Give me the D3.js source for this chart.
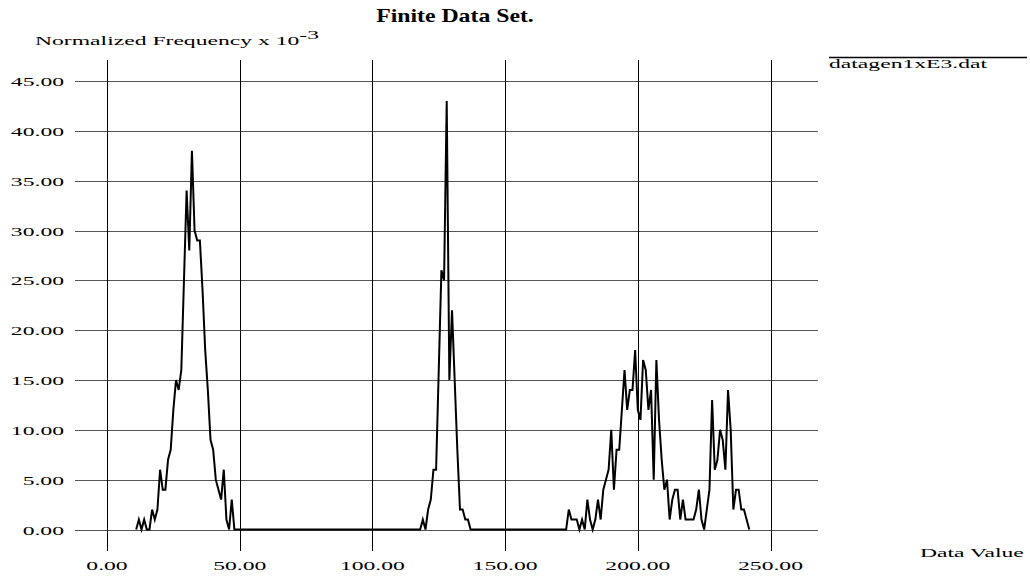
<!DOCTYPE html>
<html>
<head>
<meta charset="utf-8">
<script src="https://cdn.jsdelivr.net/npm/d3@7"></script>
<style>
body { margin: 0; background: #fff; }
svg text { font-family: "Liberation Serif", "Times New Roman", serif; fill: #000; }
</style>
</head>
<body>
<svg width="1030" height="576"></svg>
<script>
// data (x = data value, y = normalized frequency x 10^-3)
var dataValue = [
    11, 12, 13, 14, 15, 16, 17, 18, 19, 20, 21, 22, 23, 24, 25, 26, 27, 28, 29, 30,
    31, 32, 33, 34, 35, 36, 37, 38, 39, 40, 41, 42, 43, 44, 45, 46, 47, 48,
    118, 119, 120, 121, 122, 123, 124, 125, 126, 127, 128, 129, 130, 131, 132, 133,
    134, 135, 136, 137,
    173, 174, 175, 176, 177, 178, 179, 180, 181, 182, 183, 184, 185, 186, 187, 188,
    189, 190, 191, 192, 193, 194, 195, 196, 197, 198, 199, 200, 201, 202, 203, 204,
    205, 206, 207, 208, 209, 210, 211, 212, 213, 214, 215, 216, 217, 218, 219, 220,
    221, 222, 223, 224, 225, 226, 227, 228, 229, 230, 231, 232, 233, 234, 235, 236,
    237, 238, 239, 240, 241, 242
];
var frequency = [
    0, 1, 0, 1, 0, 0, 2, 1, 2, 6, 4, 4, 7, 8, 12, 15, 14, 16, 25, 34,
    28, 38, 30, 29, 29, 24, 18, 14, 9, 8, 5, 4, 3, 6, 1, 0, 3, 0,
    0, 1, 0, 2, 3, 6, 6, 16, 26, 25, 43, 15, 22, 15, 8, 2,
    2, 1, 1, 0,
    0, 2, 1, 1, 1, 0, 1, 0, 3, 1, 0, 1, 3, 1, 4, 5,
    6, 10, 4, 8, 8, 12, 16, 12, 14, 14, 18, 12, 11, 17, 16, 12,
    14, 5, 17, 11, 7, 4, 5, 1, 3, 4, 4, 1, 3, 1, 1, 1,
    1, 2, 4, 1, 0, 2, 4, 13, 6, 7, 10, 9, 6, 14, 10, 2,
    4, 4, 2, 2, 1, 0
];
var xTicks = [0, 50, 100, 150, 200, 250];
var yTicks = [0, 5, 10, 15, 20, 25, 30, 35, 40, 45];
var seriesName = "datagen1xE3.dat";

var svg = d3.select("svg");

var x = d3.scaleLinear().domain([0, 250]).range([107, 770.5]);
var y = d3.scaleLinear().domain([0, 45]).range([529.5, 81]);
var fmt = d3.format(".2f");

var sx = 1.75;   // the original text is stretched sideways

function stretched(px, py, str, anchor, size) {
    return svg.append("g")
        .attr("transform", "translate(" + px + "," + py + ") scale(" + sx + ",1)")
        .append("text")
        .attr("text-anchor", anchor)
        .style("font-size", size + "px")
        .text(str);
}

// horizontal grid
svg.append("g").selectAll("line")
    .data(yTicks)
    .enter().append("line")
    .attr("x1", 75).attr("x2", 818)
    .attr("y1", function (d) { return Math.round(y(d)) + 0.5; })
    .attr("y2", function (d) { return Math.round(y(d)) + 0.5; })
    .attr("stroke", "#555")
    .attr("stroke-width", 1);

// vertical grid
svg.append("g").selectAll("line")
    .data(xTicks)
    .enter().append("line")
    .attr("x1", function (d) { return Math.round(x(d)) + 0.5; })
    .attr("x2", function (d) { return Math.round(x(d)) + 0.5; })
    .attr("y1", 60).attr("y2", 551)
    .attr("stroke", "#000")
    .attr("stroke-width", 1);

// y tick labels
yTicks.forEach(function (d) {
    stretched(64, y(d) + 5, fmt(d), "end", 13.5);
});

// x tick labels
xTicks.forEach(function (d) {
    stretched(x(d), 570, fmt(d), "middle", 13.5);
});

// data line
var points = dataValue.map(function (d, i) { return [d, frequency[i]]; });
var line = d3.line()
    .x(function (d) { return x(d[0]); })
    .y(function (d) { return y(d[1]); });

svg.append("path")
    .datum(points)
    .attr("d", line)
    .attr("fill", "none")
    .attr("stroke", "#000")
    .attr("stroke-width", 2)
    .attr("stroke-linejoin", "miter");

// title
svg.append("g")
    .attr("transform", "translate(455,22) scale(1.25,1)")
    .append("text")
    .attr("text-anchor", "middle")
    .style("font-size", "19px")
    .style("font-weight", "bold")
    .text("Finite Data Set.");

// y axis label with superscript
var yl = stretched(35, 45, "Normalized Frequency x 10", "start", 13.5);
yl.append("tspan")
    .attr("dy", -6)
    .style("font-size", "13.5px")
    .text("-3");

// x axis label
stretched(920, 557, "Data Value", "start", 13.5);

// legend
svg.append("line")
    .attr("x1", 829).attr("x2", 1027)
    .attr("y1", 57.5).attr("y2", 57.5)
    .attr("stroke", "#000")
    .attr("stroke-width", 1.5);
stretched(829, 68, seriesName, "start", 13.5);
</script>
</body>
</html>
